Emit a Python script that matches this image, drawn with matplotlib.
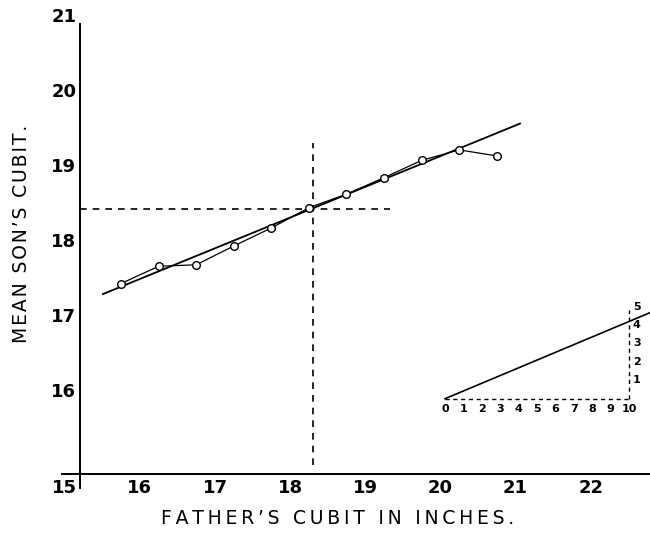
import matplotlib
matplotlib.use("Agg")
import matplotlib.pyplot as plt

# Galton: mean son's cubit against father's cubit (inches)
father = [15.75, 16.25, 16.75, 17.25, 17.75, 18.25, 18.75, 19.25, 19.75, 20.25, 20.75]
son = [17.42, 17.65, 17.67, 17.92, 18.16, 18.43, 18.61, 18.83, 19.06, 19.20, 19.12]

# fitted line and the two means
reg_x = [15.51, 21.06]
reg_y = [17.28, 19.55]
mean_father = 18.30
mean_son = 18.41
mean_son_span = [15.21, 19.33]   # extent of the horizontal dashed line
mean_father_span = [15.0, 19.29]  # extent of the vertical dashed line

x_ticks = [15, 16, 17, 18, 19, 20, 21, 22]
y_ticks = [16, 17, 18, 19, 20, 21]

# inset: ratio of rise to run
inset_run = [0, 11.2]
inset_rise = [0, 4.70]
inset_base = [0, 10]
inset_height = [0, 4.8]
inset_x_labels = list(range(0, 11))
inset_y_labels = [1, 2, 3, 4, 5]

W, H = 650, 536
fig = plt.figure(figsize=(W / 100, H / 100), dpi=100)
ax = fig.add_axes([0, 0, 1, 1])
ax.set_xlim(14.1395, 22.790)
ax.set_ylim(14.0586, 21.1957)

# axes drawn as crossing lines, like the engraved plate
for s in ("top", "right"):
    ax.spines[s].set_visible(False)
ax.spines["left"].set_position(("data", 15.21))
ax.spines["left"].set_bounds(14.70, 20.88)
ax.spines["bottom"].set_position(("data", 14.88))
ax.spines["bottom"].set_bounds(14.97, 22.79)
for s in ("left", "bottom"):
    ax.spines[s].set_linewidth(1.4)

ax.set_xticks(x_ticks)
ax.set_yticks(y_ticks)
ax.tick_params(length=0, labelsize=13)
ax.tick_params(axis="x", pad=3.5)
ax.tick_params(axis="y", pad=12)
for t in ax.get_xticklabels() + ax.get_yticklabels():
    t.set_fontweight("bold")
for t in ax.get_yticklabels():
    t.set_horizontalalignment("center")

dash = dict(color="black", lw=1.2, dashes=(4, 3.6))
ax.plot(mean_son_span, [mean_son, mean_son], **dash)
ax.plot([mean_father, mean_father], mean_father_span, **dash)

ax.plot(reg_x, reg_y, color="black", lw=1.3)
ax.plot(father, son, "-o", color="black", lw=0.9, ms=5.5,
        mfc="white", mec="black", mew=1.0)

sp = "\u2009"
ax.set_xlabel(sp.join("FATHER\u2019S CUBIT IN INCHES."), fontsize=13.5)
ax.xaxis.set_label_coords(337.5 / W, (H - 518) / H)
ax.xaxis.label.set_verticalalignment("center")
ax.set_ylabel("\u200a".join("MEAN SON\u2019S CUBIT."), fontsize=13.5)
ax.yaxis.set_label_coords(21.5 / W, (H - 234) / H)
ax.yaxis.label.set_verticalalignment("center")

# small inset triangle, unit = 18.4 px
ix0, ix1, iy0, iy1 = 425, 650, 290, 420
ins = fig.add_axes([ix0 / W, (H - iy1) / H, (ix1 - ix0) / W, (iy1 - iy0) / H])
ins.set_xlim((ix0 - 445) / 18.4, (ix1 - 445) / 18.4)
ins.set_ylim((398.7 - iy1) / 18.4, (398.7 - iy0) / 18.4)
ins.axis("off")
ins.patch.set_visible(False)
ins.plot(inset_run, inset_rise, color="black", lw=1.2)
idash = dict(color="black", lw=1.0, dashes=(3, 2.6))
ins.plot(inset_base, [0, 0], **idash)
ins.plot([inset_base[1], inset_base[1]], inset_height, **idash)
for k in inset_x_labels:
    ins.text(k, -0.55, str(k), ha="center", va="center", fontsize=8, fontweight="bold")
for k in inset_y_labels:
    ins.text(inset_base[1] + 0.42, k, str(k), ha="center", va="center",
             fontsize=8, fontweight="bold")

fig.savefig("out.png", dpi=100)
